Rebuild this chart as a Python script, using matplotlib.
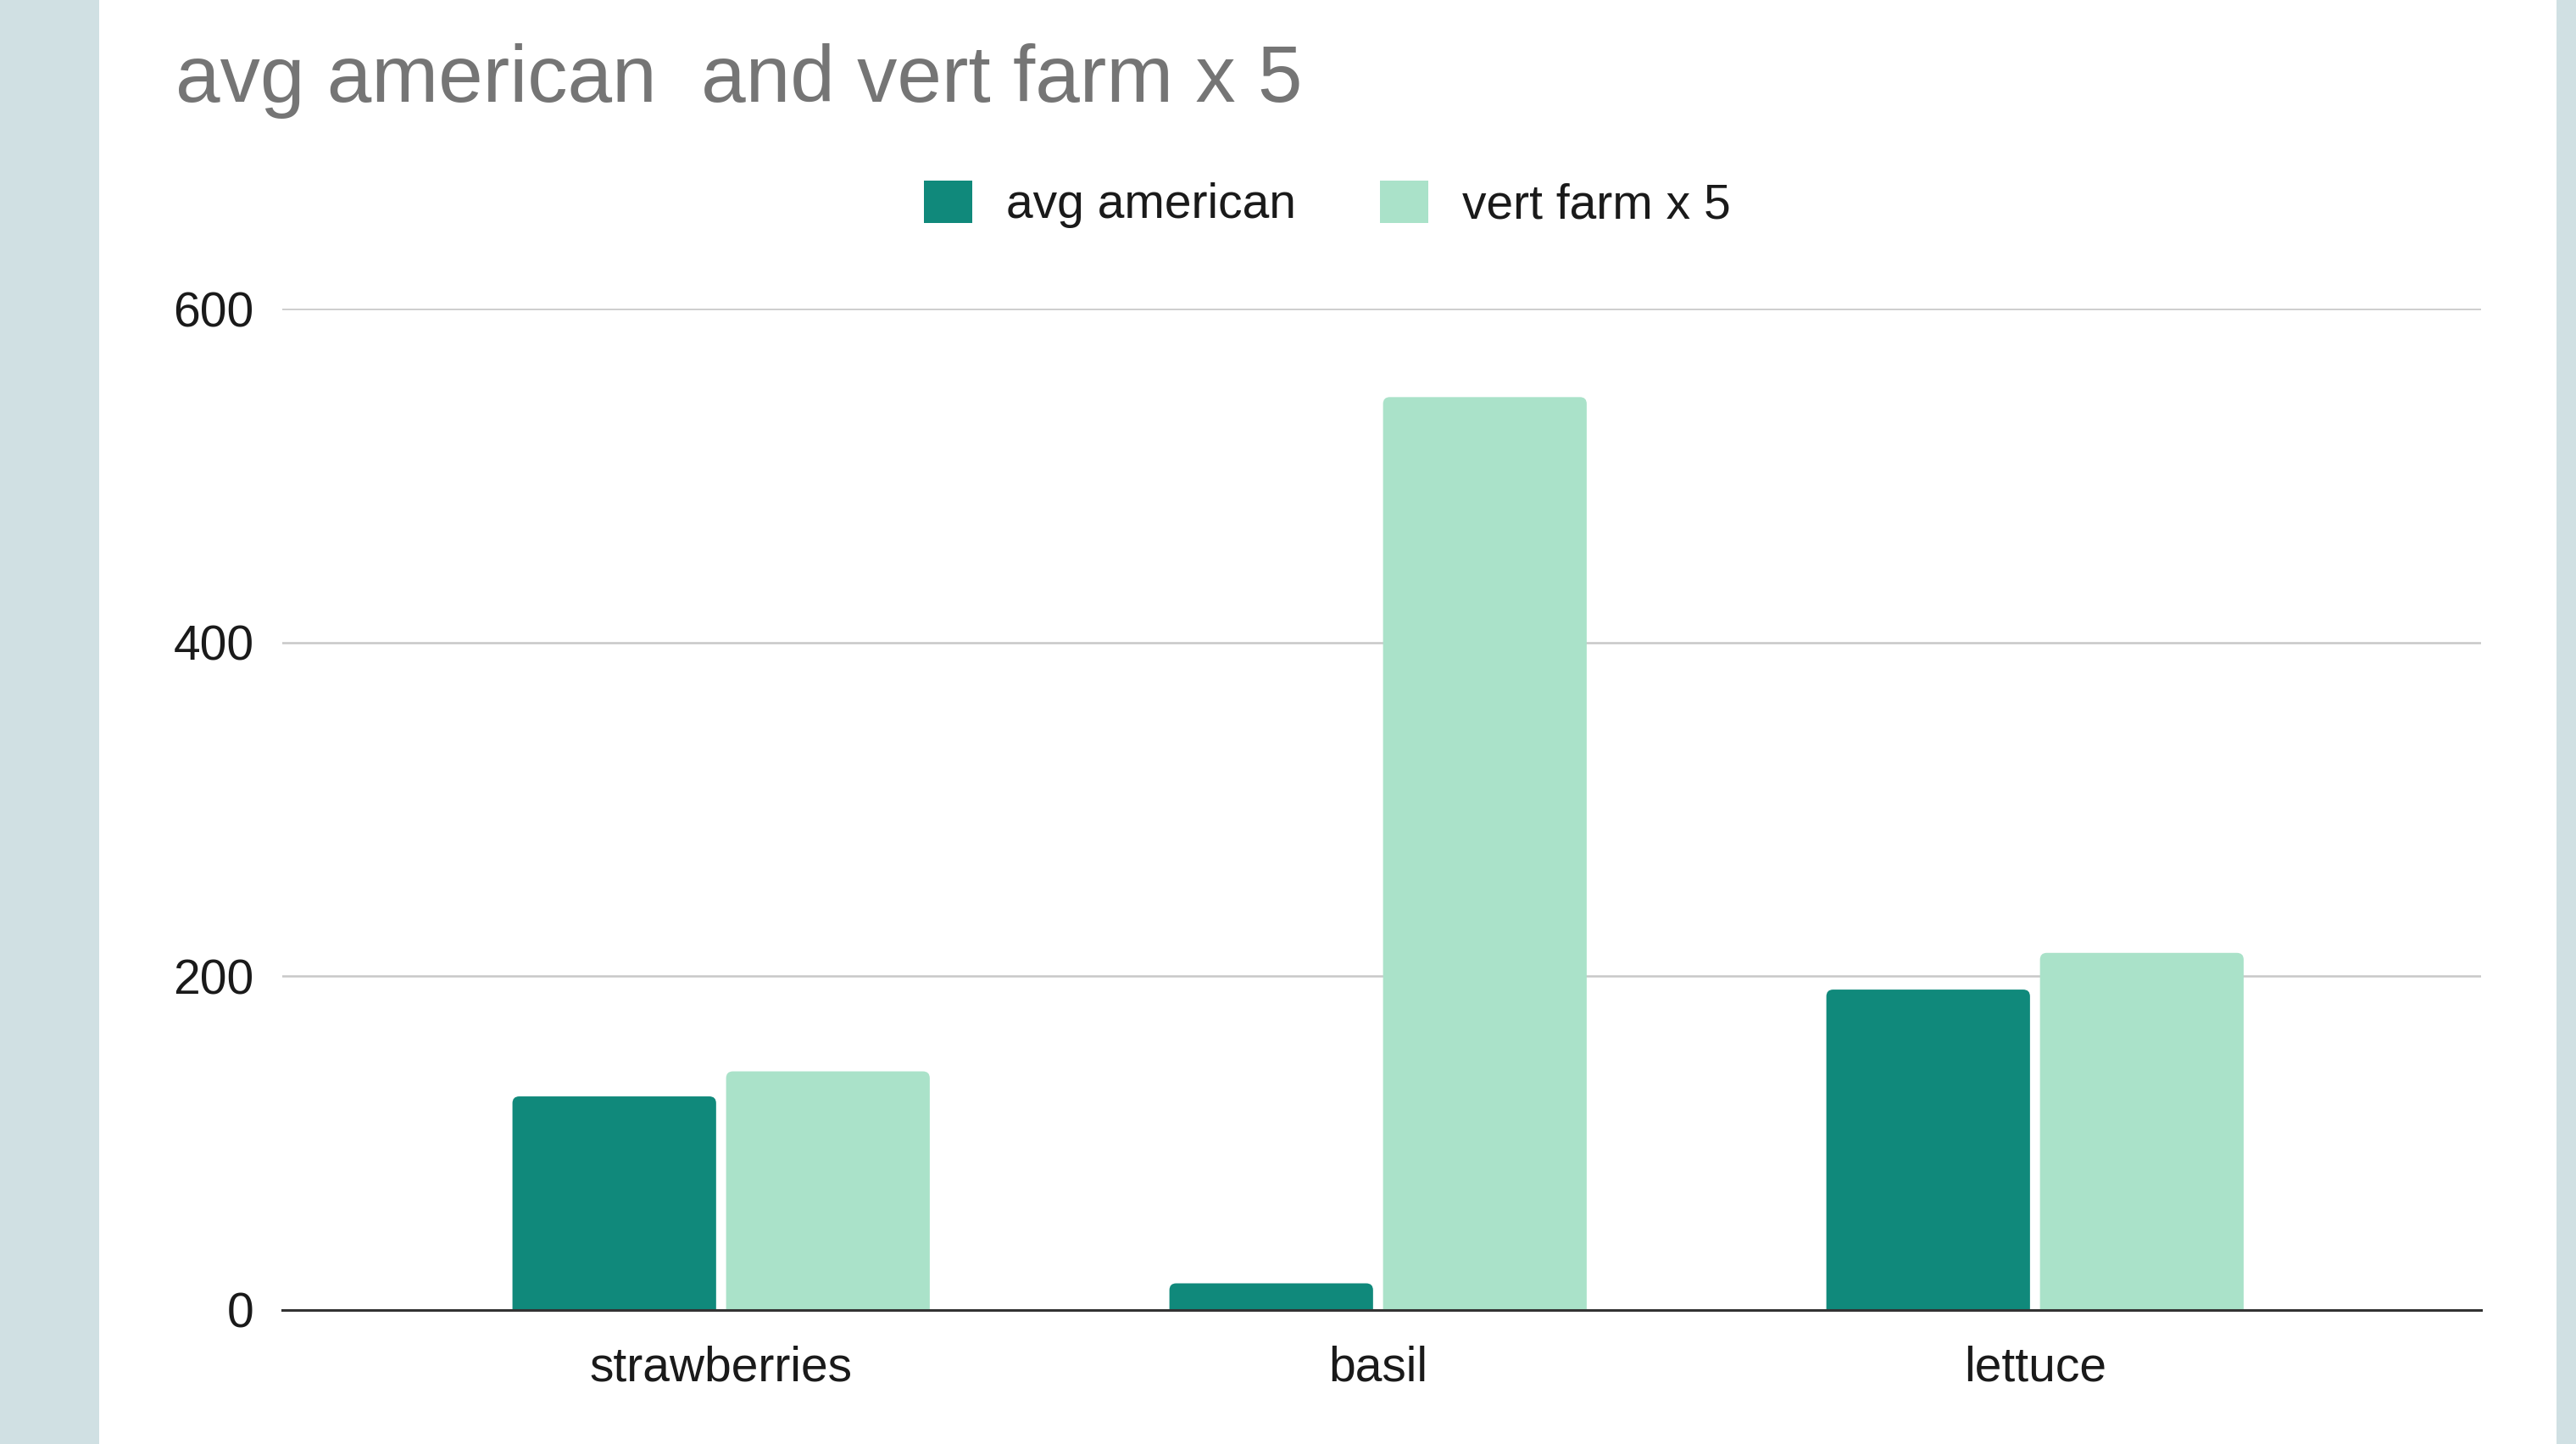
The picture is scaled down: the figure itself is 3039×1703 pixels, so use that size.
import matplotlib
matplotlib.use("Agg")
import matplotlib.pyplot as plt
from matplotlib.patches import Rectangle, FancyBboxPatch, Patch
import numpy as np

categories = ["strawberries", "basil", "lettuce"]
avg_american = [128, 16, 192]
vert_farm_x5 = [143, 547, 214]
series_names = ["avg american", "vert farm x 5"]
yticks = [0, 200, 400, 600]
title = "avg american  and vert farm x 5"

DARK = "#10897b"
LIGHT = "#aae2c9"
BAND = "#d0e0e3"

plt.rcParams['font.family'] = ['Liberation Sans', 'DejaVu Sans']

W, H = 3039, 1703
fig = plt.figure(figsize=(W / 100, H / 100), dpi=100)
fig.patch.set_facecolor("white")
fig.patches.append(Rectangle((0, 0), 117 / W, 1, transform=fig.transFigure,
                             facecolor=BAND, edgecolor="none", zorder=0))
fig.patches.append(Rectangle((3016 / W, 0), 1 - 3016 / W, 1, transform=fig.transFigure,
                             facecolor=BAND, edgecolor="none", zorder=0))

left, right = 333 / W, 2927 / W
bottom, top = 1 - 1545 / H, 1 - 364 / H
ax = fig.add_axes([left, bottom, right - left, top - bottom])

x = np.arange(len(categories))
bw = 0.31
off = 0.1626
b1 = ax.bar(x - off, avg_american, bw, color=DARK, zorder=3)
b2 = ax.bar(x + off, vert_farm_x5, bw, color=LIGHT, zorder=3)

xlim = (-0.668, 2.679)
ylim = (0, 600)
ax.set_xlim(*xlim)
ax.set_ylim(*ylim)

# rounded-top bars: replace rectangles with rounded patches (bottom clipped by axes)
axw_px = (right - left) * W
axh_px = (top - bottom) * H
xu_per_px = (xlim[1] - xlim[0]) / axw_px
yu_per_px = (ylim[1] - ylim[0]) / axh_px
r_px = 8
aspect = yu_per_px / xu_per_px
for bars in (b1, b2):
    for p in bars:
        x0, w, h = p.get_x(), p.get_width(), p.get_height()
        ext = r_px * 2 * yu_per_px
        fb = FancyBboxPatch((x0, -ext), w, h + ext,
                            boxstyle=f"round,pad=0,rounding_size={r_px * xu_per_px}",
                            mutation_aspect=aspect,
                            facecolor=p.get_facecolor(), edgecolor="none", zorder=3)
        ax.add_patch(fb)
        p.set_visible(False)

ax.set_yticks(yticks)
ax.set_yticklabels([str(v) for v in yticks])
ax.set_xticks(x)
ax.set_xticklabels(categories)
ax.tick_params(axis="both", length=0, labelsize=41, colors="#1a1a1a")
ax.tick_params(axis="y", pad=24)
ax.tick_params(axis="x", pad=30)
ax.grid(axis="y", color="#c8c8c8", linewidth=1.8, zorder=0)
ax.set_axisbelow(True)
for s in ax.spines.values():
    s.set_visible(False)
ax.axhline(0, color="#333333", linewidth=2.2, zorder=4, clip_on=False)

fig.text(207 / W, 1 - 120 / H, title, fontsize=68, color="#757575",
         ha="left", va="baseline")

handles = [Patch(facecolor=DARK, edgecolor="none"), Patch(facecolor=LIGHT, edgecolor="none")]
fig.legend(handles, series_names, loc="center", bbox_to_anchor=(1566 / W, 1 - 241 / H),
           ncol=2, frameon=False, fontsize=41, handlelength=1.0, handleheight=1.0,
           handletextpad=0.7, columnspacing=1.75, labelcolor="#1a1a1a", borderpad=0)

fig.savefig("out.png", dpi=100, facecolor="white")
